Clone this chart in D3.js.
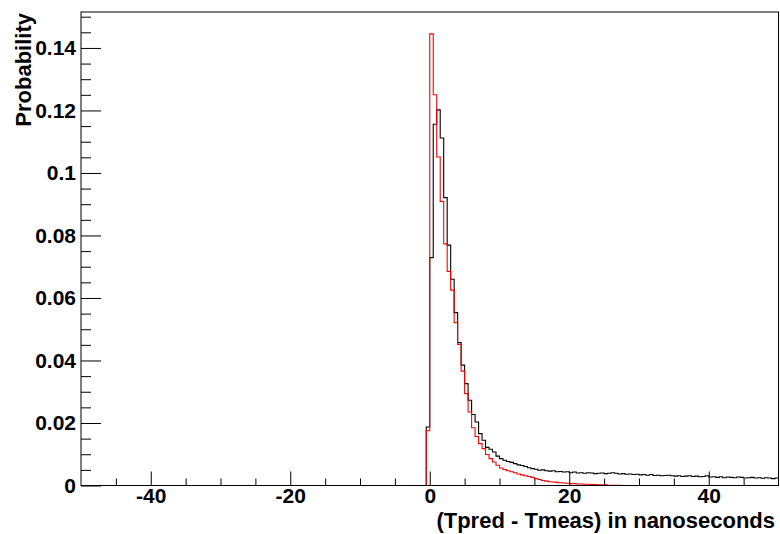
<!DOCTYPE html>
<html>
<head>
<meta charset="utf-8">
<script src="https://cdn.jsdelivr.net/npm/d3@7"></script>
<style>
  html, body { margin: 0; padding: 0; background: #fff; }
  svg { display: block; }
  text { font-family: "Liberation Sans", Arial, Helvetica, sans-serif; font-weight: bold; }
</style>
</head>
<body>
<svg id="chart" width="780" height="534"></svg>
<script>
// ---- Data ----
// Histogram bins of width 0.5 ns; first listed bin starts at -0.5 ns, all bins below are empty.
const binWidth = 0.5;
const firstBinStart = -0.5;

// Black histogram (probability per bin)
const blackValues = [
  0.0187, 0.0729, 0.1156, 0.1202, 0.1112, 0.0921, 0.0769, 0.0660, 0.0553, 0.0457,
  0.0385, 0.0326, 0.0273, 0.0227, 0.0203, 0.0166, 0.0145, 0.0122, 0.0116, 0.0107,
  0.0094, 0.0086, 0.0081, 0.0077, 0.0074, 0.0070, 0.0066, 0.0064, 0.0061, 0.0057,
  0.0054, 0.0052, 0.0049, 0.0050, 0.0047, 0.0046, 0.0047, 0.0044, 0.0045, 0.0043,
  0.0044, 0.0041, 0.0043, 0.0040, 0.0041, 0.0039, 0.0041, 0.0040, 0.0038, 0.0039,
  0.0040, 0.0038, 0.0039, 0.0041, 0.0039, 0.0037, 0.0038, 0.0036, 0.0037, 0.0035,
  0.0036, 0.0034, 0.0035, 0.0033, 0.0035, 0.0032, 0.0033, 0.0031, 0.0032, 0.0033,
  0.0031, 0.0030, 0.0031, 0.0029, 0.0030, 0.0031, 0.0029, 0.0030, 0.0028, 0.0029,
  0.0031, 0.0027, 0.0028, 0.0026, 0.0028, 0.0025, 0.0027, 0.0026, 0.0025, 0.0027,
  0.0026, 0.0024, 0.0025, 0.0026, 0.0024, 0.0025, 0.0023, 0.0025, 0.0024, 0.0022,
  0.0024
];

// Red histogram (probability per bin)
const redValues = [
  0.0175, 0.1445, 0.1250, 0.1051, 0.0909, 0.0773, 0.0685, 0.0625, 0.0521, 0.0451,
  0.0366, 0.0294, 0.0235, 0.0185, 0.0157, 0.0134, 0.0118, 0.0099, 0.0086, 0.0075,
  0.0065, 0.0056, 0.0051, 0.0047, 0.0044, 0.0041, 0.0037, 0.0034, 0.0031, 0.0029,
  0.0026, 0.0022, 0.0019, 0.0016, 0.0014, 0.0012, 0.0011, 0.0010, 0.0009, 0.0008,
  0.0007, 0.0006, 0.0006, 0.0005, 0.0005, 0.0004, 0.0004, 0.0003, 0.0003, 0.0002,
  0.0002, 0.0002, 0.0001, 0.0001, 0.0001, 0.0001, 0.0000, 0.0000, 0.0000, 0.0000,
  0.0000, 0.0000, 0.0000, 0.0000, 0.0000, 0.0000, 0.0000, 0.0000, 0.0000, 0.0000,
  0.0000, 0.0000, 0.0000, 0.0000, 0.0000, 0.0000, 0.0000, 0.0000, 0.0000, 0.0000,
  0.0000, 0.0000, 0.0000, 0.0000, 0.0000, 0.0000, 0.0000, 0.0000, 0.0000, 0.0000,
  0.0000, 0.0000, 0.0000, 0.0000, 0.0000, 0.0000, 0.0000, 0.0000, 0.0000, 0.0000,
  0.0000
];

const xDomain = [-50, 50];
const yDomain = [0, 0.1515];
const xMajorTicks = [-40, -20, 0, 20, 40];
const xTickLabels = ["-40", "-20", "0", "20", "40"];
const xMinorTicks = [-45, -35, -30, -25, -15, -10, -5, 5, 10, 15, 25, 30, 35, 45];
const yMajorTicks = [0, 0.02, 0.04, 0.06, 0.08, 0.1, 0.12, 0.14];
const yTickLabels = ["0", "0.02", "0.04", "0.06", "0.08", "0.1", "0.12", "0.14"];
const yMinorTicks = [0.005, 0.01, 0.015, 0.025, 0.03, 0.035, 0.045, 0.05, 0.055,
  0.065, 0.07, 0.075, 0.085, 0.09, 0.095, 0.105, 0.11, 0.115, 0.125, 0.13, 0.135, 0.145, 0.15];
const xTitle = "(Tpred - Tmeas) in nanoseconds";
const yTitle = "Probability";

// ---- Layout ----
const frame = { left: 81, right: 778.5, top: 12, bottom: 485.5 };
const svg = d3.select("#chart");

const x = d3.scaleLinear().domain(xDomain).range([frame.left, frame.right]);
const y = d3.scaleLinear().domain(yDomain).range([frame.bottom, frame.top]);

// Step-line points for a histogram
function stepPoints(values) {
  const pts = [{ x: xDomain[0], y: 0 }];
  values.forEach((v, i) => pts.push({ x: firstBinStart + i * binWidth, y: v }));
  pts.push({ x: xDomain[1], y: values[values.length - 1] });
  return pts;
}

const line = d3.line()
  .x(d => x(d.x))
  .y(d => y(d.y))
  .curve(d3.curveStepAfter);

svg.append("clipPath").attr("id", "frameClip")
  .append("rect")
  .attr("x", frame.left).attr("y", frame.top)
  .attr("width", frame.right - frame.left).attr("height", frame.bottom - frame.top);

const plot = svg.append("g").attr("clip-path", "url(#frameClip)");

plot.append("path")
  .datum(stepPoints(blackValues))
  .attr("d", line)
  .attr("fill", "none")
  .attr("stroke", "#000")
  .attr("stroke-width", 1.1);

plot.append("path")
  .datum(stepPoints(redValues))
  .attr("d", line)
  .attr("fill", "none")
  .attr("stroke", "#ff0000")
  .attr("stroke-width", 1.1);

// ---- Axes ----
const fontSize = 21;

// Y minor
svg.append("g")
  .attr("transform", `translate(${frame.left},0)`)
  .call(d3.axisLeft(y).tickValues(yMinorTicks).tickSize(-10).tickFormat(""))
  .call(g => g.select(".domain").remove());

// Y major
svg.append("g")
  .attr("transform", `translate(${frame.left},0)`)
  .call(d3.axisLeft(y).tickValues(yMajorTicks).tickSize(-20).tickPadding(5)
    .tickFormat((d, i) => yTickLabels[i]))
  .call(g => g.select(".domain").remove())
  .call(g => g.selectAll("text")
    .attr("font-size", fontSize)
    .attr("fill", "#000")
    .attr("font-family", "'Liberation Sans', Arial, sans-serif")
    .attr("font-weight", "bold"));

// X minor
svg.append("g")
  .attr("transform", `translate(0,${frame.bottom})`)
  .call(d3.axisBottom(x).tickValues(xMinorTicks).tickSize(-7).tickFormat(""))
  .call(g => g.select(".domain").remove());

// X major
svg.append("g")
  .attr("transform", `translate(0,${frame.bottom})`)
  .call(d3.axisBottom(x).tickValues(xMajorTicks).tickSize(-14).tickPadding(3)
    .tickFormat((d, i) => xTickLabels[i]))
  .call(g => g.select(".domain").remove())
  .call(g => g.selectAll("text")
    .attr("font-size", fontSize)
    .attr("fill", "#000")
    .attr("font-family", "'Liberation Sans', Arial, sans-serif")
    .attr("font-weight", "bold"));

svg.selectAll(".tick line").attr("stroke", "#000").attr("stroke-width", 1);

// Frame
svg.append("rect")
  .attr("x", frame.left).attr("y", frame.top)
  .attr("width", frame.right - frame.left).attr("height", frame.bottom - frame.top)
  .attr("fill", "none").attr("stroke", "#000").attr("stroke-width", 1);

// Titles
svg.append("text")
  .attr("x", 775).attr("y", 528)
  .attr("text-anchor", "end")
  .attr("font-size", 22)
  .attr("fill", "#000")
  .text(xTitle);

svg.append("text")
  .attr("transform", "translate(31,13) rotate(-90)")
  .attr("text-anchor", "end")
  .attr("font-size", 22)
  .attr("fill", "#000")
  .text(yTitle);
</script>
</body>
</html>
